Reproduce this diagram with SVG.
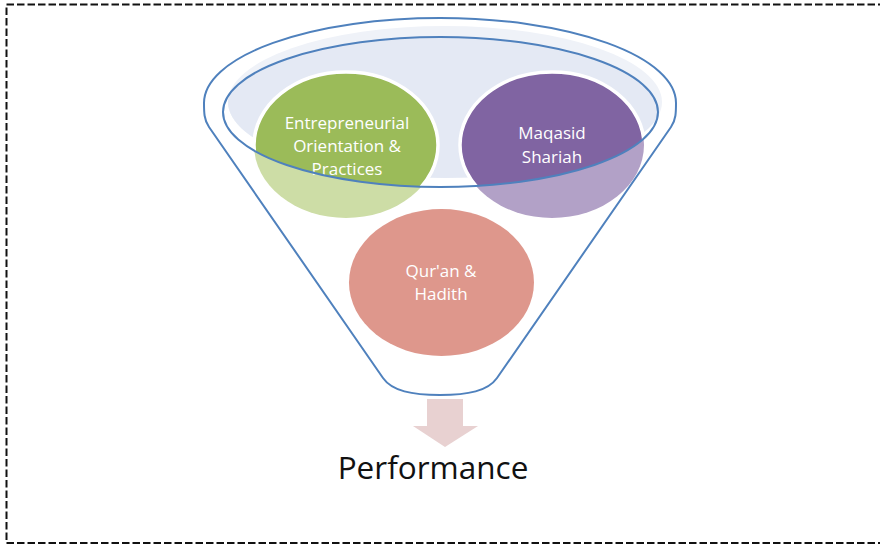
<svg xmlns="http://www.w3.org/2000/svg" width="880" height="545" viewBox="0 0 880 545">
  <style>
    .rim { fill: none; stroke: #4F81BD; stroke-width: 2; }
    .lbl { font-family: "Open Sans", "Liberation Sans", sans-serif; font-size: 17px; fill: #FFFFFF; text-anchor: middle; }
    .title { font-family: "Open Sans", "Liberation Sans", sans-serif; font-size: 31.5px; fill: #111111; text-anchor: middle; }
    .ring { stroke: #FFFFFF; stroke-width: 3.5; }
  </style>
  <defs>
    <clipPath id="rimClip">
      <ellipse cx="440.5" cy="112" rx="217.5" ry="75"/>
    </clipPath>
    <clipPath id="fillClip">
      <ellipse cx="445" cy="102" rx="217" ry="76"/>
    </clipPath>
  </defs>
  <rect width="880" height="545" fill="#FFFFFF"/>
  <rect x="6.5" y="4.5" width="900" height="538.5" fill="none" stroke="#111111" stroke-width="2" stroke-dasharray="7.5 3"/>

  <g id="funnel">
    <path class="rim" d="M 209,127 C 204,120 204,112 204,103 A 236,85 0 0 1 676,103 C 676,112 676,120 671,127 L 497,378 C 488,391 468,395 440,395 C 412,395 392,391 383,378 Z"/>
    <ellipse cx="445" cy="102" rx="217" ry="76" fill="#EFF2F8"/>
    <ellipse cx="440.5" cy="112" rx="217.5" ry="75" fill="#E4E9F4" clip-path="url(#fillClip)"/>
  </g>

  <g id="node-entrepreneurial">
    <ellipse cx="346" cy="145" rx="92" ry="73" fill="#CDDDA6"/>
    <ellipse class="ring" cx="346" cy="145" rx="92" ry="73" fill="#9BBB59" clip-path="url(#rimClip)"/>
    <text class="lbl" x="347" y="129">Entrepreneurial</text>
    <text class="lbl" x="347" y="152">Orientation &amp;</text>
    <text class="lbl" x="347" y="175">Practices</text>
  </g>

  <g id="node-maqasid">
    <ellipse cx="552" cy="145" rx="92" ry="73" fill="#B2A1C7"/>
    <ellipse class="ring" cx="552" cy="145" rx="92" ry="73" fill="#8064A2" clip-path="url(#rimClip)"/>
    <text class="lbl" x="552" y="139">Maqasid</text>
    <text class="lbl" x="552" y="163">Shariah</text>
  </g>

  <g id="rim-front">
    <ellipse class="rim" cx="440.5" cy="112" rx="217.5" ry="75"/>
  </g>

  <g id="node-quran">
    <ellipse cx="441.5" cy="282.5" rx="92.5" ry="73.5" fill="#DE978C"/>
    <text class="lbl" x="441" y="277">Qur'an &amp;</text>
    <text class="lbl" x="441" y="300">Hadith</text>
  </g>

  <g id="connectors">
    <polygon points="427,399 463,399 463,426 478,426 445,447 413,426 427,426" fill="#E8D1D1"/>
  </g>

  <g id="node-performance">
    <text class="title" x="433" y="479">Performance</text>
  </g>
</svg>
